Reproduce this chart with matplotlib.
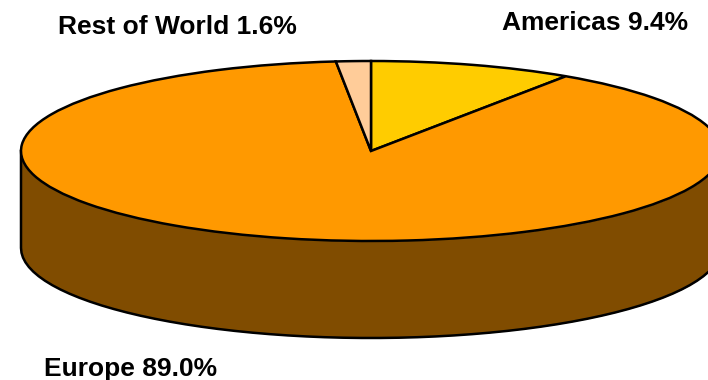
import matplotlib
matplotlib.use('Agg')
import matplotlib.pyplot as plt
import numpy as np

labels = ['Americas', 'Europe', 'Rest of World']
shares = [9.4, 89.0, 1.6]
top_colors = ['#FFCC00', '#FF9900', '#FFCC99']
wall_color = '#804C00'

plt.rcParams['font.family'] = ['Liberation Sans', 'DejaVu Sans']

W, H = 708, 380
cx, cy = 371, 151   # pie centre, pixels
rx, ry = 350, 90    # ellipse radii
depth = 97

fig = plt.figure(figsize=(W / 100, H / 100), dpi=100)
ax = fig.add_axes([0, 0, 1, 1])

# side wall: lower half of the ellipse, pushed down by the depth
t = np.linspace(np.pi, 2 * np.pi, 60)
wx = np.cos(t)
wy = np.sin(t)
d = depth / ry
ax.fill_between(wx, wy, wy - d, color=wall_color, lw=0, zorder=1)
# one continuous outline so the corners join cleanly
ox = np.concatenate([[-1], wx, [1]])
oy = np.concatenate([[0], wy - d, [0]])
ax.plot(ox, oy, color='black', lw=1.8, solid_joinstyle='round', zorder=2)

# top face
ax.pie(shares, colors=top_colors, startangle=90, counterclock=False, radius=1,
       wedgeprops={'edgecolor': 'black', 'linewidth': 1.8, 'zorder': 3})

ax.set_aspect('auto')
ax.set_xlim(-cx / rx, (W - cx) / rx)
ax.set_ylim((cy - H) / ry, cy / ry)
ax.axis('off')

def put(px, py, name, val):
    ax.text((px - cx) / rx, (cy - py) / ry, f'{name} {val}%', fontsize=19,
            fontweight='bold', ha='left', va='center', zorder=5)

put(58, 27, labels[2], shares[2])
put(502, 23, labels[0], shares[0])
put(44, 369, labels[1], f'{shares[1]:.1f}')

fig.savefig('out.png', dpi=100)
